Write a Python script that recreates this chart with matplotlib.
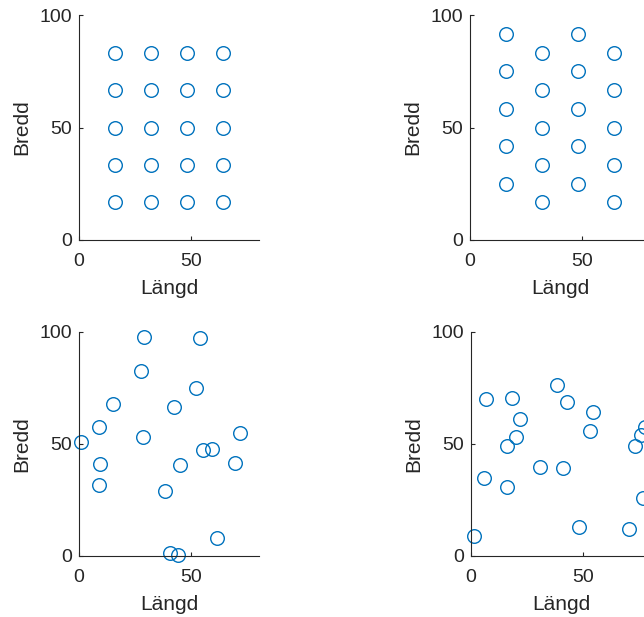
import numpy as np
import matplotlib.pyplot as plt

plt.rcParams['font.family'] = ['Liberation Sans', 'DejaVu Sans']

# Regelbundet rutnät
grid_x = [16, 16, 16, 16, 16, 32, 32, 32, 32, 32, 48, 48, 48, 48, 48, 64, 64, 64, 64, 64]
grid_y = [16.7, 33.3, 50, 66.7, 83.3] * 4

# Förskjutet rutnät
stag_x = [16, 16, 16, 16, 16, 32, 32, 32, 32, 32, 48, 48, 48, 48, 48, 64, 64, 64, 64, 64]
stag_y = ([25, 41.7, 58.3, 75, 91.7] + [16.7, 33.3, 50, 66.7, 83.3]) * 2

# Slumpmässiga punkter, två omgångar
rand1_x = [0.9, 9.1, 9.5, 9.1, 15.2, 29.0, 27.7, 28.3, 54.0, 51.8,
           42.3, 55.1, 58.9, 44.8, 38.1, 40.6, 44.0, 61.5, 69.2, 71.4]
rand1_y = [51.0, 57.8, 41.1, 31.9, 68.0, 97.6, 82.4, 53.2, 97.5, 74.8,
           66.5, 47.4, 47.7, 40.5, 28.8, 1.5, 0.3, 8.0, 41.4, 55.1]

rand2_x = [1.2, 6.5, 5.6, 18.2, 21.6, 20.0, 15.8, 16.0, 30.8, 38.3,
           42.6, 40.8, 48.1, 54.1, 52.7, 70.1, 72.8, 75.4, 77.3, 76.6]
rand2_y = [9.1, 70.0, 35.0, 70.6, 61.3, 53.1, 49.3, 30.6, 39.6, 76.2,
           68.7, 39.5, 12.8, 64.1, 55.9, 12.1, 49.0, 53.8, 57.7, 26.0]

blue = '#0072BD'
axcol = '#262626'

fig = plt.figure(figsize=(6.44, 6.17), dpi=100)

W, H = 644, 617
def place(left, top, right, bottom):
    return [left / W, (H - bottom) / H, (right - left) / W, (bottom - top) / H]

boxes = [place(79, 15, 259, 240), place(470, 15, 650, 240),
         place(79, 332, 259, 556), place(471, 332, 651, 556)]
data = [(grid_x, grid_y), (stag_x, stag_y), (rand1_x, rand1_y), (rand2_x, rand2_y)]

for box, (xs, ys) in zip(boxes, data):
    ax = fig.add_axes(box)
    ax.plot(xs, ys, 'o', ls='none', mfc='none', mec=blue, ms=9.8, mew=1.0,
            clip_on=False)
    ax.set_xlim(0, 80)
    ax.set_ylim(0, 100)
    ax.set_xticks([0, 50])
    ax.set_yticks([0, 50, 100])
    ax.spines['top'].set_visible(False)
    ax.spines['right'].set_visible(False)
    for s in ('left', 'bottom'):
        ax.spines[s].set_color(axcol)
        ax.spines[s].set_linewidth(0.8)
    ax.tick_params(direction='in', length=3, width=0.8, colors=axcol,
                   labelsize=14, labelcolor=axcol)
    ax.tick_params(axis='x', pad=9)
    ax.tick_params(axis='y', pad=5)
    ax.set_xlabel('Längd', fontsize=15, color=axcol, labelpad=7)
    ax.set_ylabel('Bredd', fontsize=15, color=axcol, labelpad=6)

fig.savefig('out.png', dpi=100)
